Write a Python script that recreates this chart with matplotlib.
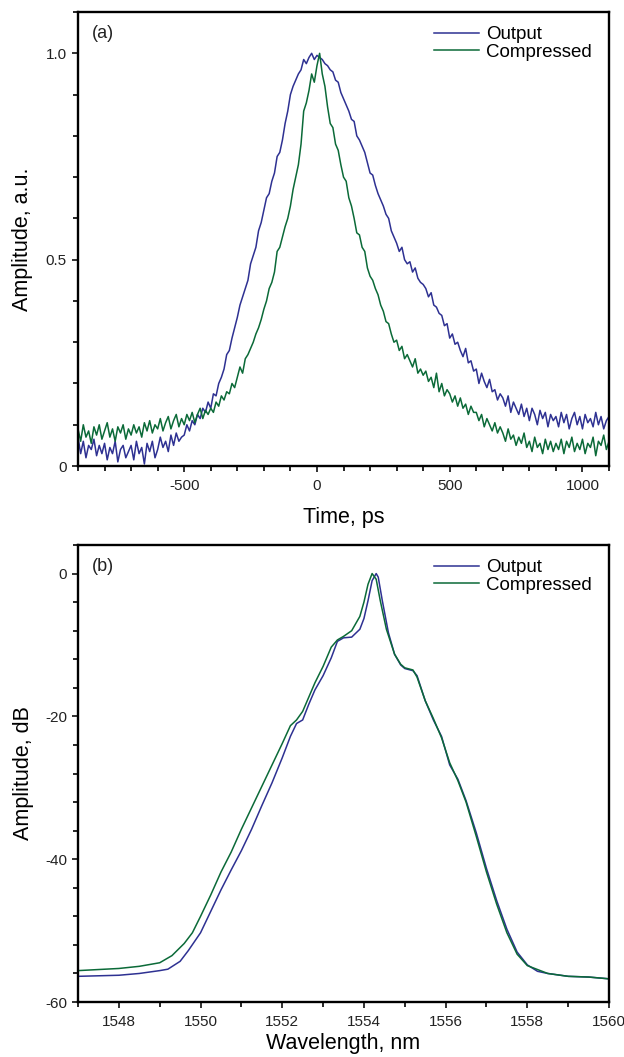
import numpy as np
import matplotlib
matplotlib.use("Agg")
import matplotlib.pyplot as plt
from matplotlib.ticker import MultipleLocator

plt.rcParams['font.family'] = ['Liberation Sans', 'DejaVu Sans']
plt.rcParams['axes.unicode_minus'] = False

# ---------------- Panel (a): time traces ----------------
time_ps = np.arange(-900, 1101, 10)

output_time = [
    0.07, 0.03, 0.06, 0.02, 0.05, 0.04, 0.065, 0.025, 0.05, 0.03,
    0.055, 0.015, 0.045, 0.03, 0.06, 0.01, 0.04, 0.05, 0.02, 0.035,
    0.05, 0.015, 0.06, 0.03, 0.045, 0.005, 0.055, 0.035, 0.06, 0.02,
    0.04, 0.07, 0.045, 0.06, 0.035, 0.075, 0.05, 0.08, 0.06, 0.07,
    0.075, 0.10, 0.085, 0.11, 0.10, 0.125, 0.115, 0.14, 0.13, 0.155,
    0.14, 0.175, 0.17, 0.20, 0.215, 0.235, 0.27, 0.28, 0.31, 0.335,
    0.36, 0.39, 0.41, 0.43, 0.45, 0.49, 0.51, 0.53, 0.57, 0.59,
    0.62, 0.65, 0.66, 0.69, 0.71, 0.75, 0.76, 0.79, 0.83, 0.86,
    0.90, 0.92, 0.935, 0.95, 0.96, 0.985, 0.975, 0.99, 1.0, 0.985,
    0.995, 0.99, 0.985, 0.975, 0.97, 0.96, 0.955, 0.935, 0.93, 0.905,
    0.89, 0.875, 0.86, 0.84, 0.835, 0.80, 0.79, 0.775, 0.76, 0.735,
    0.71, 0.705, 0.68, 0.66, 0.645, 0.63, 0.61, 0.60, 0.57, 0.555,
    0.54, 0.52, 0.53, 0.50, 0.49, 0.495, 0.47, 0.48, 0.455, 0.445,
    0.44, 0.43, 0.41, 0.42, 0.39, 0.385, 0.37, 0.365, 0.34, 0.345,
    0.31, 0.32, 0.295, 0.30, 0.28, 0.265, 0.285, 0.25, 0.255, 0.23,
    0.235, 0.20, 0.225, 0.205, 0.19, 0.21, 0.18, 0.185, 0.16, 0.175,
    0.165, 0.145, 0.17, 0.13, 0.155, 0.14, 0.125, 0.15, 0.12, 0.14,
    0.11, 0.14, 0.125, 0.10, 0.135, 0.115, 0.13, 0.095, 0.125, 0.11,
    0.12, 0.095, 0.13, 0.105, 0.125, 0.09, 0.115, 0.13, 0.10, 0.12,
    0.09, 0.125, 0.105, 0.115, 0.095, 0.13, 0.10, 0.12, 0.09, 0.11,
    0.12,
]

compressed_time = [
    0.09, 0.06, 0.10, 0.07, 0.085, 0.055, 0.095, 0.075, 0.10, 0.065,
    0.085, 0.105, 0.07, 0.09, 0.06, 0.095, 0.08, 0.10, 0.065, 0.09,
    0.075, 0.10, 0.08, 0.095, 0.07, 0.105, 0.085, 0.11, 0.08, 0.10,
    0.09, 0.115, 0.085, 0.105, 0.12, 0.09, 0.11, 0.125, 0.095, 0.115,
    0.10, 0.125, 0.11, 0.13, 0.105, 0.125, 0.14, 0.115, 0.135, 0.125,
    0.14, 0.13, 0.155, 0.145, 0.17, 0.16, 0.18, 0.175, 0.20, 0.19,
    0.215, 0.24, 0.225, 0.26, 0.27, 0.285, 0.30, 0.32, 0.335, 0.355,
    0.38, 0.40, 0.43, 0.445, 0.47, 0.52, 0.53, 0.555, 0.58, 0.60,
    0.63, 0.67, 0.70, 0.73, 0.78, 0.86, 0.88, 0.91, 0.95, 0.93,
    0.97, 1.0, 0.95, 0.92, 0.87, 0.83, 0.82, 0.78, 0.765, 0.73,
    0.70, 0.69, 0.65, 0.63, 0.60, 0.565, 0.56, 0.53, 0.52, 0.48,
    0.46, 0.45, 0.43, 0.415, 0.39, 0.375, 0.35, 0.345, 0.32, 0.30,
    0.305, 0.28, 0.29, 0.26, 0.27, 0.255, 0.24, 0.26, 0.225, 0.235,
    0.22, 0.23, 0.205, 0.215, 0.19, 0.225, 0.18, 0.20, 0.17, 0.185,
    0.175, 0.155, 0.17, 0.145, 0.165, 0.14, 0.15, 0.125, 0.145, 0.13,
    0.13, 0.11, 0.125, 0.095, 0.115, 0.10, 0.085, 0.105, 0.08, 0.095,
    0.08, 0.06, 0.09, 0.065, 0.075, 0.05, 0.07, 0.055, 0.08, 0.045,
    0.06, 0.035, 0.07, 0.045, 0.055, 0.03, 0.065, 0.04, 0.06, 0.035,
    0.055, 0.04, 0.065, 0.03, 0.06, 0.045, 0.07, 0.035, 0.055, 0.04,
    0.065, 0.03, 0.055, 0.045, 0.07, 0.025, 0.06, 0.05, 0.075, 0.04,
    0.06,
]

# ---------------- Panel (b): spectra ----------------
wl_output = [1547.0, 1548.0, 1548.5, 1549.0, 1549.2, 1549.5, 1549.7, 1550.0,
             1550.25, 1550.5, 1550.75, 1551.0, 1551.25, 1551.5, 1551.75, 1552.0,
             1552.2, 1552.35, 1552.5, 1552.65, 1552.8, 1553.0, 1553.2, 1553.35,
             1553.5, 1553.7, 1553.9, 1554.0, 1554.1, 1554.2, 1554.3, 1554.35,
             1554.45, 1554.6, 1554.75, 1554.9, 1555.0, 1555.2, 1555.3, 1555.5,
             1555.7, 1555.9, 1556.1, 1556.3, 1556.5, 1556.75, 1557.0, 1557.25,
             1557.5, 1557.75, 1558.0, 1558.25, 1558.5, 1559.0, 1559.5, 1560.0]
db_output = [-56.4, -56.25, -56.0, -55.6, -55.4, -54.3, -52.8, -50.3,
             -47.3, -44.3, -41.5, -38.8, -35.8, -32.5, -29.3, -25.8,
             -22.8, -21.0, -20.5, -18.3, -16.3, -14.3, -11.8, -9.5,
             -9.0, -8.9, -7.8, -6.3, -3.8, -1.0, 0.0, -0.5,
             -3.8, -8.3, -11.3, -12.8, -13.3, -13.6, -14.3, -17.8,
             -20.5, -22.8, -26.8, -28.8, -31.8, -36.3, -41.3, -45.8,
             -49.8, -53.0, -54.8, -55.7, -56.0, -56.4, -56.5, -56.75]

wl_compressed = [1547.0, 1548.0, 1548.5, 1549.0, 1549.3, 1549.6, 1549.8, 1550.0,
                 1550.25, 1550.5, 1550.75, 1551.0, 1551.25, 1551.5, 1551.75, 1552.0,
                 1552.2, 1552.35, 1552.5, 1552.65, 1552.8, 1553.0, 1553.2, 1553.35,
                 1553.5, 1553.7, 1553.9, 1554.0, 1554.1, 1554.2, 1554.3, 1554.4,
                 1554.55, 1554.75, 1554.9, 1555.0, 1555.2, 1555.3, 1555.5, 1555.7,
                 1555.9, 1556.1, 1556.3, 1556.5, 1556.75, 1557.0, 1557.25, 1557.5,
                 1557.75, 1558.0, 1558.5, 1559.0, 1559.5, 1560.0]
db_compressed = [-55.6, -55.3, -55.0, -54.5, -53.5, -51.8, -50.3, -48.0,
                 -45.0, -41.8, -39.0, -35.8, -32.8, -29.8, -26.8, -23.8,
                 -21.3, -20.5, -19.3, -17.3, -15.3, -13.0, -10.3, -9.3,
                 -8.8, -8.0, -6.0, -4.0, -1.5, 0.0, -0.8, -3.8,
                 -7.8, -11.3, -12.7, -13.2, -13.5, -14.5, -17.8, -20.3,
                 -23.0, -26.5, -29.0, -32.0, -36.8, -41.8, -46.3, -50.3,
                 -53.3, -54.9, -56.0, -56.4, -56.5, -56.75]

series_labels = ["Output", "Compressed"]
panel_labels = ["(a)", "(b)"]
blue = "#2e3192"
green = "#0b6a38"

fig = plt.figure(figsize=(6.24, 10.57), dpi=100)
ax1 = fig.add_axes([0.125, 0.5591, 0.851, 0.4295])
ax2 = fig.add_axes([0.125, 0.052, 0.851, 0.4324])

ax1.plot(time_ps, output_time, color=blue, lw=1.1, label=series_labels[0])
ax1.plot(time_ps, compressed_time, color=green, lw=1.1, label=series_labels[1])
ax1.set_xlim(-900, 1100)
ax1.set_ylim(0, 1.1)
ax1.set_xticks([-500, 0, 500, 1000])
ax1.xaxis.set_minor_locator(MultipleLocator(100))
ax1.set_yticks([0, 0.5, 1.0])
ax1.set_yticklabels(["0", "0.5", "1.0"])
ax1.yaxis.set_minor_locator(MultipleLocator(0.1))
ax1.set_xlabel("Time, ps", fontsize=15.5, labelpad=10)
ax1.set_ylabel("Amplitude, a.u.", fontsize=15.5, labelpad=9)

ax2.plot(wl_output, db_output, color=blue, lw=1.1, label=series_labels[0])
ax2.plot(wl_compressed, db_compressed, color=green, lw=1.1, label=series_labels[1])
ax2.set_xlim(1547, 1560)
ax2.set_ylim(-60, 4)
ax2.set_xticks([1548, 1550, 1552, 1554, 1556, 1558, 1560])
ax2.xaxis.set_minor_locator(MultipleLocator(1))
ax2.set_yticks([0, -20, -40, -60])
ax2.yaxis.set_minor_locator(MultipleLocator(4))
ax2.set_xlabel("Wavelength, nm", fontsize=15.5, labelpad=3)
ax2.set_ylabel("Amplitude, dB", fontsize=15.5, labelpad=8)

for ax, lab in zip([ax1, ax2], panel_labels):
    for sp in ax.spines.values():
        sp.set_linewidth(1.7)
    ax.tick_params(which='major', direction='out', length=4.5, width=1.3,
                   labelsize=11, colors='#222222')
    ax.tick_params(which='minor', direction='out', length=3.6, width=1.2)
    ax.tick_params(axis='x', which='major', pad=5)
    ax.tick_params(axis='y', which='major', pad=3.5)
    ax.text(0.026, 0.972, lab, transform=ax.transAxes, fontsize=13,
            va='top', ha='left', color='#222222')
    ax.legend(loc='upper right', frameon=False, fontsize=13.5,
              handlelength=2.4, handletextpad=0.4, labelspacing=0.02,
              borderaxespad=0.0, bbox_to_anchor=(0.982, 0.985))

fig.savefig("out.png", dpi=100)
